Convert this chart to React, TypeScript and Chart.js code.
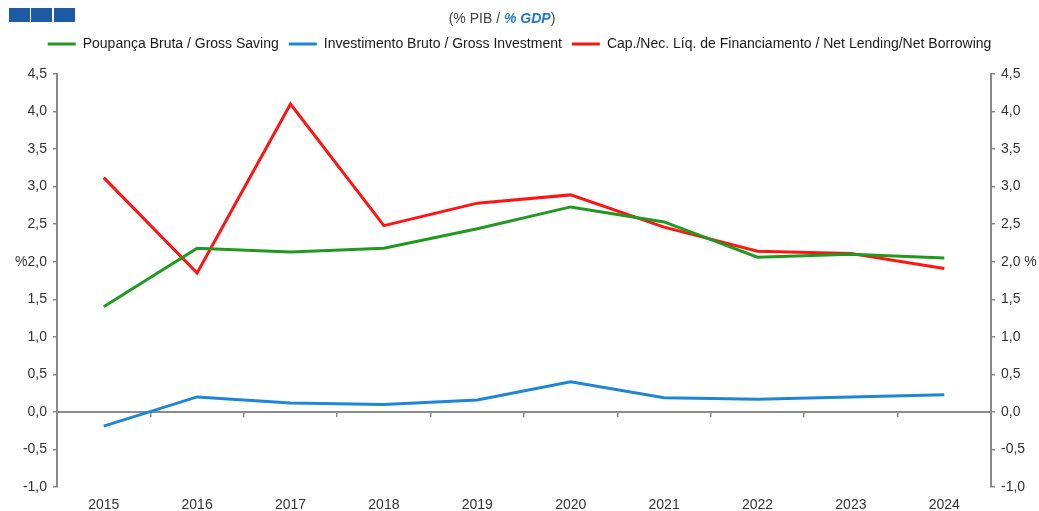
import React, { useEffect, useRef } from 'react';
import { Chart, registerables } from 'chart.js';

Chart.register(...registerables);

const years = ['2015', '2016', '2017', '2018', '2019', '2020', '2021', '2022', '2023', '2024'];
const grossSaving = [1.4, 2.18, 2.13, 2.18, 2.44, 2.73, 2.53, 2.06, 2.1, 2.05];
const grossInvestment = [-0.19, 0.2, 0.12, 0.1, 0.16, 0.4, 0.19, 0.17, 0.2, 0.23];
const netLending = [3.12, 1.85, 4.1, 2.48, 2.78, 2.89, 2.46, 2.14, 2.11, 1.91];
const seriesLabels = [
  'Poupança Bruta / Gross Saving',
  'Investimento Bruto / Gross Investment',
  'Cap./Nec. Líq. de Financiamento / Net Lending/Net Borrowing',
];
const yMin = -1;
const yMax = 4.5;
const yStep = 0.5;
const unitValue = 2;

const FONT = "'Liberation Sans', Arial, sans-serif";
const AXIS_GRAY = '#8a8a8a';

const fmt = (v: number) => v.toFixed(1).replace('.', ',');

export default function App() {
  const canvasRef = useRef<HTMLCanvasElement | null>(null);

  useEffect(() => {
    if (!canvasRef.current) return;
    const chart = new Chart(canvasRef.current, {
      type: 'line',
      data: {
        labels: years,
        datasets: [
          { label: seriesLabels[0], data: grossSaving, borderColor: '#1f9a1f', backgroundColor: '#1f9a1f', borderWidth: 3 },
          { label: seriesLabels[1], data: grossInvestment, borderColor: '#1e86d6', backgroundColor: '#1e86d6', borderWidth: 3 },
          { label: seriesLabels[2], data: netLending, borderColor: '#ff1414', backgroundColor: '#ff1414', borderWidth: 3 },
        ],
      },
      options: {
        animation: false,
        responsive: true,
        maintainAspectRatio: false,
        layout: { padding: { top: 27, left: 0, right: 0, bottom: 0 } },
        elements: { point: { radius: 0, hoverRadius: 0 }, line: { tension: 0 } },
        plugins: {
          title: { display: false },
          tooltip: { enabled: false },
          legend: {
            display: true,
            position: 'top',
            labels: {
              usePointStyle: true,
              pointStyle: 'line',
              pointStyleWidth: 28,
              padding: 10,
              color: '#1a1a1a',
              font: { family: FONT, size: 14 },
            },
          },
        },
        scales: {
          x: {
            type: 'category',
            position: 'bottom',
            offset: true,
            grid: { display: false },
            border: { display: false },
            ticks: { color: '#333', padding: 2, font: { family: FONT, size: 14 }, maxRotation: 0, autoSkip: false },
            afterFit: (s: any) => { s.height = 24; },
          },
          xZero: {
            type: 'category',
            position: { y: 0 },
            offset: true,
            grid: { offset: true, drawOnChartArea: false, drawTicks: true, tickLength: 4, color: AXIS_GRAY, lineWidth: 1.5 },
            border: { display: true, color: AXIS_GRAY, width: 2 },
            ticks: { display: false },
            afterFit: (s: any) => { s.height = 0; },
          },
          xSpacer: {
            type: 'category',
            position: 'top',
            grid: { display: false },
            border: { display: false },
            ticks: { display: false },
            afterFit: (s: any) => { s.height = 13; },
          },
          y: {
            type: 'linear',
            position: 'left',
            min: yMin,
            max: yMax,
            grid: { drawOnChartArea: false, drawTicks: true, tickLength: 4, color: AXIS_GRAY, lineWidth: 1.5 },
            border: { display: true, color: AXIS_GRAY, width: 2 },
            ticks: {
              stepSize: yStep,
              padding: 6,
              color: '#333',
              font: { family: FONT, size: 14 },
              callback: (v: any) => (Number(v) === unitValue ? '%' + fmt(Number(v)) : fmt(Number(v))),
            },
            afterFit: (s: any) => { s.width = 57; },
          },
          y2: {
            type: 'linear',
            position: 'right',
            min: yMin,
            max: yMax,
            grid: { drawOnChartArea: false, drawTicks: true, tickLength: 4, color: AXIS_GRAY, lineWidth: 1.5 },
            border: { display: true, color: AXIS_GRAY, width: 2 },
            ticks: {
              stepSize: yStep,
              padding: 6,
              color: '#333',
              font: { family: FONT, size: 14 },
              callback: (v: any) => (Number(v) === unitValue ? fmt(Number(v)) + ' %' : fmt(Number(v))),
            },
            afterFit: (s: any) => { s.width = 48; },
          },
        },
      } as any,
    });
    return () => chart.destroy();
  }, []);

  const sq = (left: number) => (
    <div style={{ position: 'absolute', left, top: 8, width: 21, height: 14, background: '#1d5ba6' }} />
  );

  return (
    <div style={{ position: 'fixed', left: 0, top: 0, width: 1039, height: 511, background: '#fff', overflow: 'hidden' }}>
      <canvas ref={canvasRef} />
      {sq(9)}
      {sq(31)}
      {sq(54)}
      <div
        style={{
          position: 'absolute', left: 0, top: 10, width: 1004, textAlign: 'center',
          fontFamily: FONT, fontSize: 14, lineHeight: '16px', color: '#404040',
        }}
      >
        (% PIB / <span style={{ color: '#1f7ac8', fontWeight: 'bold', fontStyle: 'italic' }}>% GDP</span>)
      </div>
    </div>
  );
}
